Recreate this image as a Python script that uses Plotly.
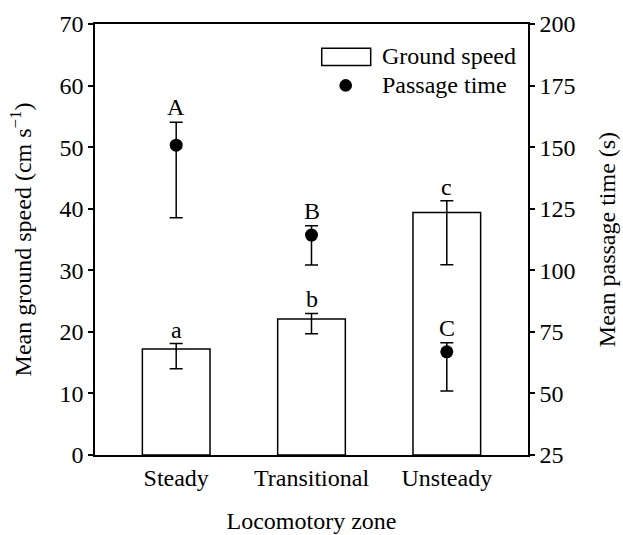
import plotly.graph_objects as go

zones = ["Steady", "Transitional", "Unsteady"]
speed = [17.2, 22.1, 39.4]
speed_hi = [18.1, 23.0, 41.3]
speed_lo = [14.0, 19.7, 30.9]
ptime = [150.8, 114.3, 66.9]
ptime_hi = [160.1, 118.1, 70.6]
ptime_lo = [121.3, 102.1, 51.0]
speed_letters = ["a", "b", "c"]
time_letters = ["A", "B", "C"]
y1_ticks = [0, 10, 20, 30, 40, 50, 60, 70]
y2_ticks = [25, 50, 75, 100, 125, 150, 175, 200]

FONT = "Liberation Serif"
FS = 24
TF = dict(family=FONT, size=FS, color="black")

fig = go.Figure()
fig.add_trace(go.Bar(
    x=zones, y=speed, width=0.5,
    marker=dict(color="white", line=dict(color="black", width=1.5)),
    error_y=dict(type="data", symmetric=False,
                 array=[h - v for h, v in zip(speed_hi, speed)],
                 arrayminus=[v - l for v, l in zip(speed, speed_lo)],
                 color="black", thickness=1.5, width=6.5),
    showlegend=False, name="Ground speed"))
fig.add_trace(go.Scatter(
    x=zones, y=ptime, yaxis="y2", mode="markers",
    marker=dict(color="black", size=13),
    error_y=dict(type="data", symmetric=False,
                 array=[h - v for h, v in zip(ptime_hi, ptime)],
                 arrayminus=[v - l for v, l in zip(ptime, ptime_lo)],
                 color="black", thickness=1.5, width=6.5),
    showlegend=False, name="Passage time"))

annotations = []
for z, h, t in zip(zones, speed_hi, speed_letters):
    annotations.append(dict(x=z, y=h, xref="x", yref="y", text=t, showarrow=False,
                            yanchor="bottom", yshift=-1, font=TF))
for z, h, t in zip(zones, ptime_hi, time_letters):
    annotations.append(dict(x=z, y=h, xref="x", yref="y2", text=t, showarrow=False,
                            yanchor="bottom", yshift=0, font=TF))
# custom legend texts
annotations.append(dict(x=0.6575, y=0.9247, xref="paper", yref="paper", text="Ground speed",
                        showarrow=False, xanchor="left", yanchor="middle", font=TF))
annotations.append(dict(x=0.6575, y=0.8575, xref="paper", yref="paper", text="Passage time",
                        showarrow=False, xanchor="left", yanchor="middle", font=TF))

shapes = [
    dict(type="rect", xref="paper", yref="paper", x0=0.5236, x1=0.6367, y0=0.9038, y1=0.9439,
         line=dict(color="black", width=1.5), fillcolor="white"),
    dict(type="circle", xref="paper", yref="paper", xsizemode="pixel", ysizemode="pixel",
         xanchor=0.579, yanchor=0.8575, x0=-6.3, x1=6.3, y0=-6.3, y1=6.3,
         line=dict(color="black", width=0), fillcolor="black"),
]

fig.update_layout(
    width=623, height=535,
    margin=dict(l=95, r=95, t=23.5, b=80),
    plot_bgcolor="white", paper_bgcolor="white",
    font=TF,
    xaxis=dict(range=[-0.6, 2.6], showline=True, linecolor="black", linewidth=1.5,
               mirror=True, ticks="", showgrid=False, zeroline=False, automargin=False,
               tickfont=TF, ticklabelstandoff=0,
               title=dict(text="Locomotory zone", standoff=23, font=TF)),
    yaxis=dict(range=[0, 70], tickvals=y1_ticks, showline=True, linecolor="black", linewidth=1.5,
               ticks="outside", ticklen=5, tickwidth=1.5, tickcolor="black", automargin=False,
               showgrid=False, zeroline=False, tickfont=TF,
               title=dict(text="Mean ground speed (cm s<sup>−1</sup>)", standoff=21, font=TF)),
    yaxis2=dict(range=[25, 200], tickvals=y2_ticks, overlaying="y", side="right",
                showline=True, linecolor="black", linewidth=1.5, automargin=False,
                ticks="outside", ticklen=5, tickwidth=1.5, tickcolor="black",
                showgrid=False, zeroline=False, tickfont=TF,
                title=dict(text="Mean passage time (s)", standoff=24, font=TF)),
    annotations=annotations, shapes=shapes,
)

fig.write_html("out.html")
